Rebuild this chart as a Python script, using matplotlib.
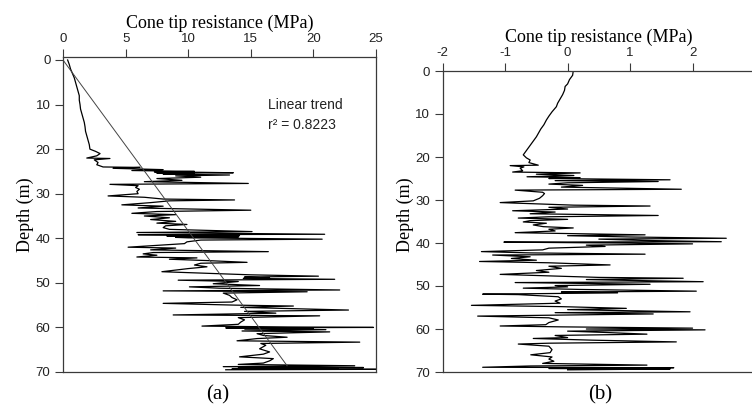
import matplotlib
matplotlib.use("Agg")
import matplotlib.pyplot as plt

plt.rcParams["axes.unicode_minus"] = False

# ---- panel (a): raw cone tip resistance profile ----
depth_a = [0.0, 1.0, 2.0, 3.0, 4.0, 5.0, 6.0, 7.0, 8.0, 9.0, 10.0, 11.0, 12.0, 13.0, 14.0,
           15.0, 16.0, 17.0, 18.0, 19.0, 20.0, 20.5, 21.0, 21.5, 22.0, 22.1, 22.4, 23.0, 23.5,
           24.0, 24.1, 24.3, 24.6, 24.8, 25.0, 25.1, 25.2, 25.3, 25.4, 25.5, 25.6, 25.8, 26.0,
           26.3, 26.6, 27.0, 27.3, 27.7, 27.9, 28.2, 28.6, 29.0, 29.5, 30.0, 30.5, 30.8, 31.2,
           31.4, 31.6, 32.0, 32.5, 32.8, 33.2, 33.7, 34.0, 34.4, 34.7, 35.0, 35.4, 35.8, 36.2,
           36.6, 36.9, 37.2, 37.6, 38.0, 38.5, 38.7, 39.1, 39.2, 39.4, 39.5, 39.6, 39.7, 39.8,
           39.9, 40.2, 40.4, 40.8, 41.2, 42.0, 42.2, 42.6, 43.0, 43.2, 43.5, 43.8, 44.2, 44.4,
           44.7, 45.0, 45.4, 45.6, 46.0, 46.4, 46.8, 47.5, 47.8, 48.2, 48.5, 48.7, 48.9, 49.0,
           49.2, 49.4, 49.7, 50.2, 50.6, 50.9, 51.2, 51.6, 51.8, 52.0, 52.3, 52.8, 53.3, 53.8,
           54.3, 54.6, 55.0, 55.2, 55.5, 56.1, 56.4, 56.8, 57.2, 57.4, 57.8, 58.3, 58.8, 59.3,
           59.7, 59.9, 60.0, 60.1, 60.2, 60.3, 60.5, 60.8, 61.0, 61.4, 61.8, 62.2, 62.5, 63.0,
           63.3, 63.6, 64.0, 64.8, 65.5, 66.0, 66.6, 67.0, 67.5, 68.0, 68.3, 68.6, 68.8, 69.0,
           69.1, 69.2, 69.3, 69.4, 69.5]
qc_a = [0.37, 0.5, 0.6, 0.75, 0.9, 1.0, 1.1, 1.2, 1.3, 1.3, 1.36, 1.4, 1.5, 1.6, 1.7,
        1.76, 1.8, 1.9, 2.0, 2.1, 2.15, 2.6, 2.96, 2.7, 1.9, 3.75, 2.5, 2.8, 2.7,
        3.2, 6.15, 4.0, 8.0, 5.5, 10.5, 7.3, 11.0, 13.6, 7.5, 10.5, 8.0, 13.3, 9.0,
        11.0, 7.5, 9.5, 6.5, 14.8, 3.75, 6.0, 5.8, 6.1, 5.9, 6.0, 3.6, 6.5, 8.0,
        13.7, 8.5, 7.0, 4.7, 8.0, 6.0, 15.0, 7.5, 5.5, 9.0, 6.5, 8.5, 7.0, 9.0,
        7.5, 9.9, 8.2, 8.0, 8.5, 15.1, 5.9, 20.9, 6.0, 14.1, 8.3, 13.5, 14.0, 9.0,
        10.0, 20.7, 11.0, 9.9, 9.7, 5.2, 9.0, 7.0, 16.4, 7.2, 6.4, 7.5, 5.9, 10.7,
        8.5, 11.5, 14.7, 11.0, 10.5, 11.5, 10.0, 7.9, 11.0, 15.0, 20.4, 14.5, 16.5, 14.4,
        21.7, 9.2, 14.0, 12.0, 15.7, 10.1, 12.5, 22.1, 8.0, 19.5, 12.8, 13.3, 13.5, 13.9,
        13.5, 8.0, 13.8, 18.4, 14.2, 22.8, 14.5, 17.0, 8.8, 20.5, 14.0, 14.5, 14.2, 14.0,
        11.1, 18.0, 24.8, 13.0, 20.0, 14.5, 21.0, 14.3, 21.3, 15.5, 16.0, 17.9, 15.5, 13.9,
        23.7, 15.8, 16.2, 15.7, 16.5, 16.0, 14.1, 16.8, 16.5, 16.0, 14.0, 23.3, 12.8, 24.0,
        14.0, 22.0, 13.5, 25.0, 13.0]

# linear trend line for panel (a)
trend_depth = [0.0, 68.6]
trend_qc = [0.0, 17.9]

# ---- panel (b): detrended profile ----
depth_b = [0.0, 1.0, 2.0, 3.0, 3.6, 4.5, 5.5, 6.5, 7.5, 8.3, 9.5, 10.5, 11.4, 12.5, 13.5,
           14.5, 15.3, 16.5, 17.5, 18.5, 19.5, 20.2, 20.7, 21.3, 21.9, 22.0, 22.3, 22.6, 23.2,
           23.5, 23.7, 24.0, 24.3, 24.6, 24.8, 25.0, 25.3, 25.5, 25.7, 26.0, 26.3, 26.6, 27.0,
           27.5, 27.7, 28.2, 28.5, 29.0, 29.6, 30.2, 30.6, 30.9, 31.2, 31.4, 31.7, 32.1, 32.5,
           32.8, 33.2, 33.6, 33.9, 34.2, 34.5, 34.8, 35.1, 35.4, 35.8, 36.2, 36.5, 36.8, 37.2,
           37.6, 38.1, 38.3, 38.6, 38.9, 39.1, 39.4, 39.7, 39.8, 40.0, 40.2, 40.5, 40.8, 41.2,
           41.6, 42.0, 42.3, 42.6, 42.8, 43.2, 43.6, 44.0, 44.3, 44.6, 45.1, 45.4, 45.9, 46.4,
           46.8, 47.3, 47.6, 48.0, 48.2, 48.5, 48.7, 49.0, 49.2, 49.6, 49.9, 50.2, 50.5, 50.8,
           51.2, 51.4, 51.6, 51.9, 52.0, 52.5, 53.0, 53.5, 54.0, 54.5, 54.8, 55.2, 55.5, 56.0,
           56.2, 56.5, 56.8, 57.0, 57.4, 57.9, 58.5, 59.0, 59.3, 59.5, 59.8, 60.0, 60.2, 60.5,
           60.8, 61.2, 61.5, 62.0, 62.2, 62.6, 63.0, 63.3, 63.5, 64.0, 64.8, 65.5, 66.0, 66.5,
           67.0, 67.5, 68.0, 68.4, 68.6, 68.9, 69.0, 69.2, 69.3, 69.5]
qc_b = [0.09, 0.08, 0.03, 0.0, -0.04, -0.05, -0.08, -0.12, -0.16, -0.18, -0.25, -0.3, -0.34, -0.38, -0.43,
        -0.47, -0.5, -0.56, -0.61, -0.66, -0.71, -0.66, -0.6, -0.62, -0.47, -0.92, -0.7, -0.76, -0.72,
        -0.88, 0.2, -0.5, 0.1, -0.65, 0.2, -0.3, 1.64, -0.2, 1.45, 0.0, -0.3, 0.24, -0.1,
        1.82, -0.84, -0.4, -0.37, -0.4, -0.45, -0.55, -1.08, -0.5, 0.1, 1.32, -0.3, 0.0, -0.88,
        -0.2, -0.6, 1.45, -0.3, -0.79, 0.0, -0.6, -0.71, -0.34, -0.55, -0.39, 0.09, -0.3, -0.2,
        -0.84, 1.24, 0.0, 1.0, 2.54, 0.5, 1.2, 2.46, -1.02, 0.8, 2.0, 0.3, 0.6, -0.3,
        -0.4, -1.38, -0.6, 1.24, -1.2, -0.6, -0.9, -0.5, -1.41, -0.3, 0.68, -0.3, -0.1, -0.5,
        -0.3, -1.08, -0.4, 0.5, 1.85, 0.3, 1.0, 2.17, -0.84, 1.32, -0.2, 0.0, -0.71, 0.2,
        2.06, -0.1, 0.8, -1.36, -0.79, -0.15, -0.1, -0.2, -0.12, -1.54, -0.1, 0.94, 0.0, 1.96,
        -0.2, 1.37, -0.4, -1.44, -0.3, -0.15, -0.3, -0.35, -1.08, -0.1, 2.0, 0.3, 2.2, 0.0,
        0.6, 1.27, -0.2, 0.0, -0.55, 0.4, 1.74, -0.3, -0.79, -0.3, -0.25, -0.28, -0.59, -0.25,
        -0.3, -0.22, -0.4, 1.27, -0.6, -1.36, 1.7, -0.3, 1.64, 0.0]

xticks_a = [0, 5, 10, 15, 20, 25]
xticks_b = [-2, -1, 0, 1, 2, 3]
yticks = [0, 10, 20, 30, 40, 50, 60, 70]

SERIF = ["Liberation Serif", "DejaVu Serif"]
SANS = ["Liberation Sans", "DejaVu Sans"]
SPINE = "#3a3a3a"

fig = plt.figure(figsize=(7.52, 4.19), dpi=100)
ax_a = fig.add_axes([63 / 752, 47 / 419, 313 / 752, 315 / 419])
ax_b = fig.add_axes([442.7 / 752, 47 / 419, 312.3 / 752, 301 / 419])


def style_axis(ax, xticks, ylim):
    ax.xaxis.tick_top()
    ax.xaxis.set_label_position("top")
    ax.set_xticks(xticks)
    ax.set_yticks(yticks)
    ax.set_ylim(*ylim)
    ax.tick_params(direction="out", length=6, width=0.8, color=SPINE, labelsize=9.5,
                   labelcolor="#222222", pad=3)
    for lab in ax.get_xticklabels() + ax.get_yticklabels():
        lab.set_family(SANS)
    for sp in ax.spines.values():
        sp.set_color(SPINE)
        sp.set_linewidth(0.9)
    ax.set_xlabel("Cone tip resistance (MPa)", family=SERIF, fontsize=13, labelpad=3.5)


# (a)
ax_a.plot(qc_a, depth_a, color="black", lw=0.9)
ax_a.plot(trend_qc, trend_depth, color="#444444", lw=0.7)
ax_a.set_xlim(0, 25)
style_axis(ax_a, xticks_a, (70, -0.67))
ax_a.text(16.4, 10.1, "Linear trend", family=SANS, fontsize=10, va="center", color="#222222")
ax_a.text(16.4, 14.6, "r\u00b2 = 0.8223", family=SANS, fontsize=10, va="center", color="#222222")

# (b)
ax_b.plot(qc_b, depth_b, color="black", lw=0.9)
ax_b.set_xlim(-2, 3)
style_axis(ax_b, xticks_b, (70, 0))

fig.text(25 / 752, 1 - 215 / 419, "Depth (m)", family=SERIF, fontsize=13,
         rotation=90, ha="center", va="center")
fig.text(405 / 752, 1 - 215 / 419, "Depth (m)", family=SERIF, fontsize=13,
         rotation=90, ha="center", va="center")
fig.text(218 / 752, 1 - 395 / 419, "(a)", family=SERIF, fontsize=15, ha="center", va="center")
fig.text(600 / 752, 1 - 395 / 419, "(b)", family=SERIF, fontsize=15, ha="center", va="center")

fig.savefig("out.png", dpi=100)
